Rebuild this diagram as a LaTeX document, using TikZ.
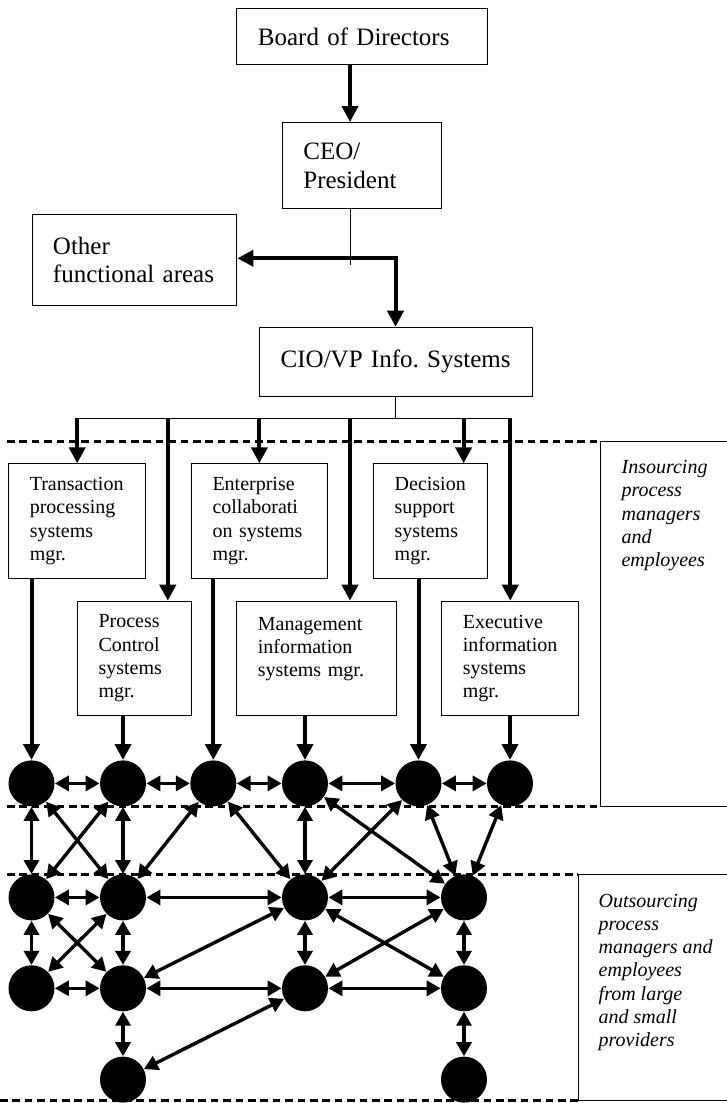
\documentclass[tikz,border=0pt]{standalone}
\usepackage{fontspec}
\setmainfont{Liberation Serif}
\usetikzlibrary{arrows.meta}

\newcommand\headfont{\fontsize{12.5pt}{14.4pt}\selectfont\frenchspacing\hyphenpenalty=10000 }
\newcommand\mgrfont{\fontsize{10pt}{11.65pt}\selectfont\frenchspacing\hyphenpenalty=10000 }

\begin{document}
\begin{tikzpicture}[x=0.5pt,y=-0.5pt,
  box/.style={draw,line width=0.5pt,anchor=north west,inner xsep=10.5pt,inner ysep=0pt,align=left},
  headbox/.style={box,font=\headfont},
  mgrbox/.style={box,font=\mgrfont,minimum height=57.3pt},
  dot/.style={circle,fill,inner sep=0pt,minimum size=23pt},
  feed/.style={line width=2pt,-{Triangle[length=8pt,width=8pt]}},
  link/.style={line width=1.7pt,{Triangle[length=7pt,width=7.5pt]}-{Triangle[length=7pt,width=7.5pt]}},
  tier/.style={line width=1.3pt,dash pattern=on 3.8pt off 2.4pt},
  frame/.style={line width=0.5pt},
  note/.style={font=\mgrfont\itshape,align=left,anchor=north west,inner sep=0pt}]
\useasboundingbox (0,0) rectangle (727,1103);

% executive boxes
\node[headbox,minimum width=125.2pt,text width=104.2pt,minimum height=27.85pt] (board) at (236.4,8.3) {Board~of~Directors};
\node[headbox,minimum width=79.5pt,text width=58.5pt,minimum height=43.15pt] (ceo) at (281.9,122) {CEO/\\President};
\node[headbox,minimum width=102.45pt,text width=81.45pt,minimum height=45.65pt] (other) at (31.5,213.7) {Other\\functional~areas};
\node[headbox,minimum width=136.5pt,text width=115.5pt,minimum height=34.5pt] (cio) at (259.2,326.7) {CIO/VP~Info.~Systems};
\coordinate (tap) at (350,265);
\coordinate (turn) at (395.5,258.3);
\draw[feed] (board.south -| tap) -- (ceo.north -| tap);
\draw[frame] (ceo.south -| tap) -- (tap);
\draw[feed,{Triangle[length=8pt,width=8pt]}-{Triangle[length=8pt,width=8pt]}] (turn -| other.east) -- (turn) -- (turn |- cio.north);

% manager boxes
\node[mgrbox,minimum width=68.4pt,text width=47.4pt] (tps) at (8.3,463.3) {Transaction\\processing\\systems\\mgr.};
\node[mgrbox,minimum width=67.9pt,text width=46.9pt] (ecs) at (191,463.3) {Enterprise\\collaborati\\on~systems\\mgr.};
\node[mgrbox,minimum width=56.8pt,text width=35.8pt] (dss) at (373.2,463.3) {Decision\\support\\systems\\mgr.};
\node[mgrbox,minimum width=56.75pt,text width=35.75pt] (pcs) at (77,600.7) {Process\\Control\\systems\\mgr.};
\node[mgrbox,minimum width=79.55pt,text width=58.55pt] (mis) at (236.4,600.7) {Management\\information\\systems~mgr.\\\mbox{}};
\node[mgrbox,minimum width=68.35pt,text width=47.35pt] (eis) at (441.4,600.7) {Executive\\information\\systems\\mgr.};
\coordinate (bus) at (395.5,418.3);
\coordinate (pcsin) at (167.8,418.3);
\coordinate (misin) at (350,418.3);
\coordinate (dssin) at (463.6,418.3);
\draw[line width=0.8pt] (bus |- cio.south) -- (bus);
\draw[line width=0.8pt] (bus -| tps) -- (bus -| eis);
\draw[feed] (bus -| tps) -- (tps.north);
\draw[feed] (pcsin) -- (pcsin |- pcs.north);
\draw[feed] (bus -| ecs) -- (ecs.north);
\draw[feed] (misin) -- (misin |- mis.north);
\draw[feed] (dssin) -- (dssin |- dss.north);
\draw[feed] (bus -| eis) -- (eis.north);

% tier borders and side notes
\draw[tier] (7,441.7) -- (600.4,441.7);
\draw[tier] (7,806.7) -- (600.4,806.7);
\draw[tier] (7,874.3) -- (578.3,874.3);
\draw[tier] (0,1100.7) -- (578.3,1100.7);
\draw[frame] (727,441.7) -- (600.4,441.7) -- (600.4,806.7) -- (727,806.7);
\draw[frame] (727,874.3) -- (578.3,874.3) -- (578.3,1100.7) -- (727,1100.7);
\node[note] (insrc) at (621.2,460) {Insourcing\\process\\managers\\and\\employees};
\node[note] (outsrc) at (598.3,893.4) {Outsourcing\\process\\managers~and\\employees\\from~large\\and~small\\providers};

% process people
\node[dot] (a1) at (31.5,783.4) {};
\node[dot] (a2) at (123,783.4) {};
\node[dot] (a3) at (213.3,783.4) {};
\node[dot] (a4) at (305,783.4) {};
\node[dot] (a5) at (418.5,783.4) {};
\node[dot] (a6) at (510,783.4) {};
\node[dot] (b1) at (31.5,897.4) {};
\node[dot] (b2) at (123,897.4) {};
\node[dot] (b3) at (305,897.4) {};
\node[dot] (b4) at (464,897.4) {};
\node[dot] (c1) at (31.5,988.3) {};
\node[dot] (c2) at (123,988.3) {};
\node[dot] (c3) at (305,988.3) {};
\node[dot] (c4) at (464,988.3) {};
\node[dot] (d1) at (123,1079.6) {};
\node[dot] (d2) at (464,1079.6) {};
\draw[feed] (tps.south -| a1) -- (a1);
\draw[feed] (pcs.south -| a2) -- (a2);
\draw[feed] (ecs.south -| a3) -- (a3);
\draw[feed] (mis.south -| a4) -- (a4);
\draw[feed] (dss.south -| a5) -- (a5);
\draw[feed] (eis.south -| a6) -- (a6);

% links
\draw[link] (a1) -- (a2);
\draw[link] (a2) -- (a3);
\draw[link] (a3) -- (a4);
\draw[link] (a4) -- (a5);
\draw[link] (a5) -- (a6);
\draw[link] (a1) -- (b1);
\draw[link] (a2) -- (b1);
\draw[link] (a1) -- (b2);
\draw[link] (a2) -- (b2);
\draw[link] (a3) -- (b2);
\draw[link] (a3) -- (b3);
\draw[link] (a4) -- (b3);
\draw[link] (a5) -- (b3);
\draw[link] (a4) -- (b4);
\draw[link] (a5) -- (b4);
\draw[link] (a6) -- (b4);
\draw[link] (b1) -- (b2);
\draw[link] (b2) -- (b3);
\draw[link] (b3) -- (b4);
\draw[link] (b1) -- (c1);
\draw[link] (b2) -- (c1);
\draw[link] (b1) -- (c2);
\draw[link] (b2) -- (c2);
\draw[link] (b3) -- (c2);
\draw[link] (b3) -- (c3);
\draw[link] (b4) -- (c3);
\draw[link] (b3) -- (c4);
\draw[link] (b4) -- (c4);
\draw[link] (c1) -- (c2);
\draw[link] (c2) -- (c3);
\draw[link] (c3) -- (c4);
\draw[link] (c2) -- (d1);
\draw[link] (c3) -- (d1);
\draw[link] (c4) -- (d2);
\end{tikzpicture}
\end{document}
